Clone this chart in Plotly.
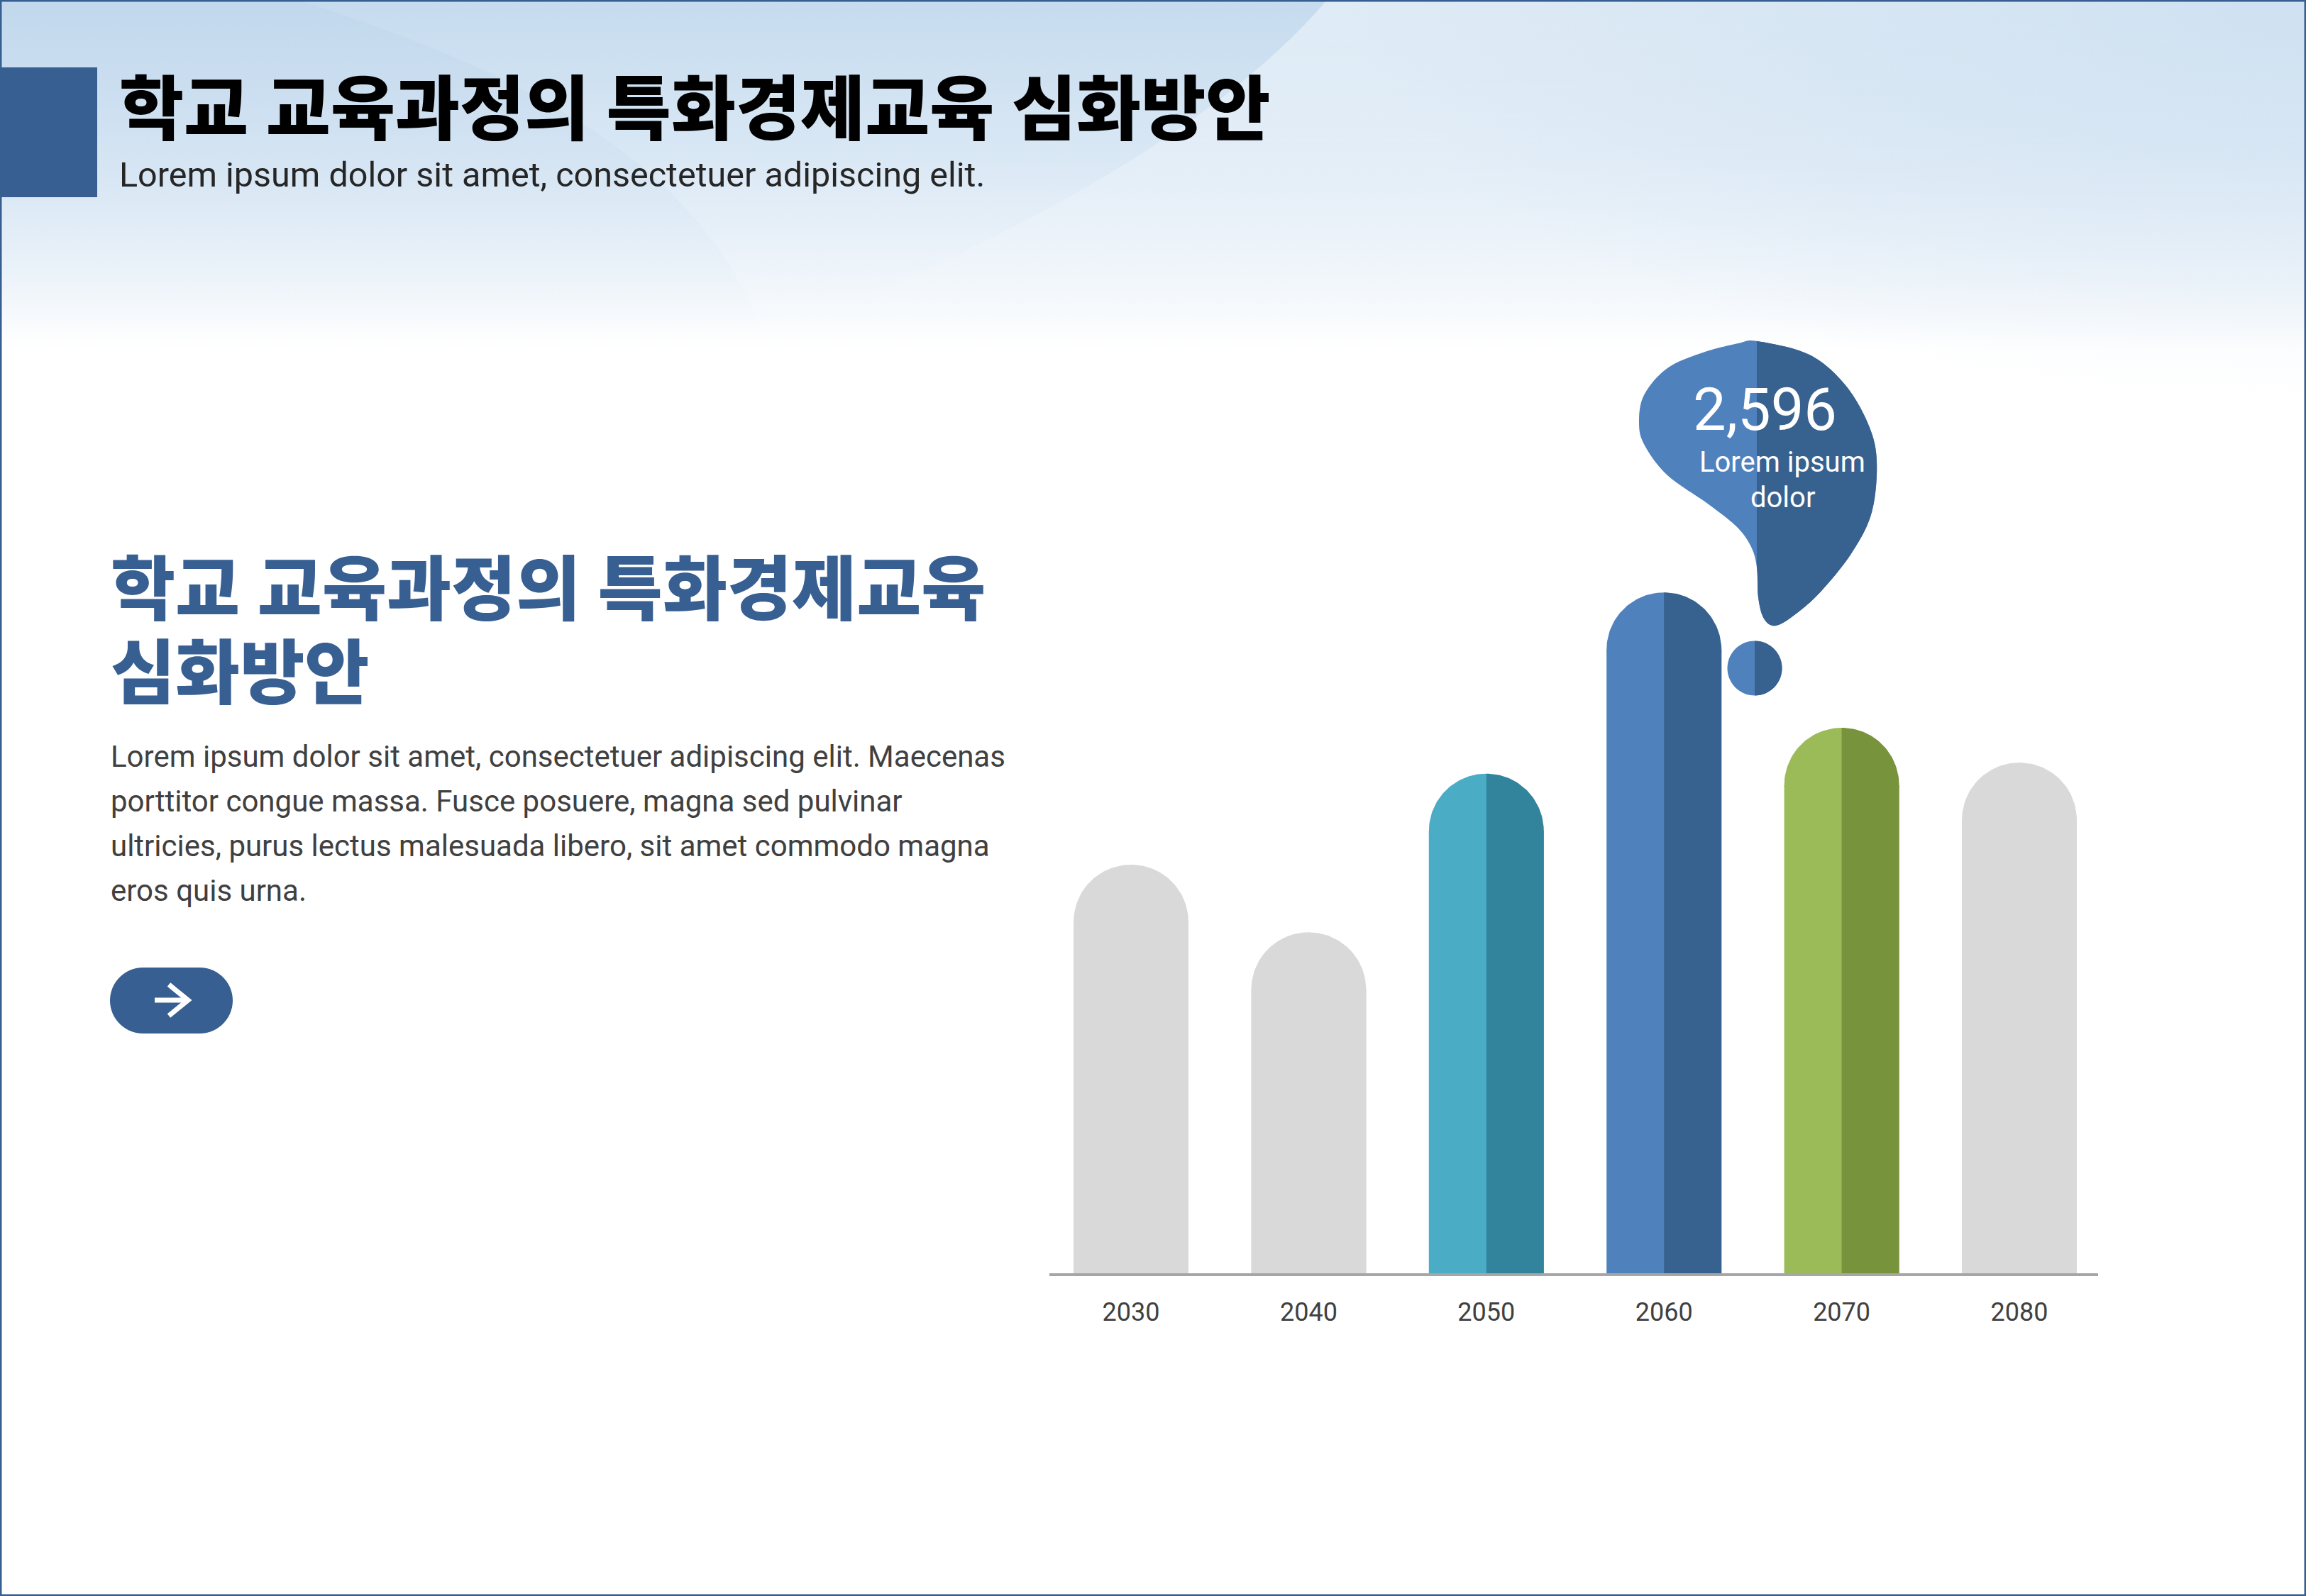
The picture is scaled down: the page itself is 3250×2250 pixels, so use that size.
import base64
import math
import plotly.graph_objects as go

# ---------------- data ----------------
years = [2030, 2040, 2050, 2060, 2070, 2080]
tick_labels = ["2030", "2040", "2050", "2060", "2070", "2080"]
values = [1558, 1300, 1905, 2596, 2080, 1947]
light_colors = ["#D9D9D9", "#D9D9D9", "#4BACC6", "#4F81BD", "#9BBB59", "#D9D9D9"]
dark_colors = ["#D9D9D9", "#D9D9D9", "#31849B", "#37618F", "#77933C", "#D9D9D9"]

callout_value = "2,596"
callout_lines = ["Lorem ipsum", "dolor"]

title = "학교 교육과정의 특화경제교육 심화방안"
subtitle = "Lorem ipsum dolor sit amet, consectetuer adipiscing elit."
side_title = ["학교 교육과정의 특화경제교육", "심화방안"]
body_lines = [
    "Lorem ipsum dolor sit amet, consectetuer adipiscing elit. Maecenas",
    "porttitor congue massa. Fusce posuere, magna sed pulvinar",
    "ultricies, purus lectus malesuada libero, sit amet commodo magna",
    "eros quis urna.",
]

# ---------------- layout constants (pixels) ----------------
W, H = 3250, 2250
PX_L, PX_R = 1479, 2957          # plot area horizontal extent
PX_BASE, PX_TOP = 1795, 316      # plot area vertical extent
Y_MAX = 4000
FIRST_PX, STEP_PX = 1594, 250.4  # first bar centre, spacing
BAR_PX = 162

NAVY = "#375F92"
KR_FONT = "Roboto, Noto Sans CJK KR"
EN_FONT = "Roboto"


def px(x, y):
    return x / W, 1 - y / H


xk = 10 / STEP_PX
x_range = [years[0] - (FIRST_PX - PX_L) * xk, years[0] + (PX_R - FIRST_PX) * xk]
yk = Y_MAX / (PX_BASE - PX_TOP)
bw = BAR_PX * xk
rx = bw / 2
ry = (BAR_PX / 2) * yk
eps = 2 * yk
dlt = 1 * xk

fig = go.Figure()

# bar bodies (full width light, right half dark)
fig.add_trace(go.Bar(x=years, y=[v - ry for v in values], width=bw,
                     marker=dict(color=light_colors, line=dict(width=0)),
                     hoverinfo="skip"))
fig.add_trace(go.Bar(x=[yr + bw / 4 for yr in years], y=[v - ry for v in values], width=bw / 2,
                     marker=dict(color=dark_colors, line=dict(width=0)),
                     hoverinfo="skip"))

# rounded caps
N = 40
for yr, v, lc in zip(years, values, light_colors):
    xs = [yr - rx] + [yr + rx * math.cos(math.pi - (math.pi / 2) * k / N) for k in range(N + 1)] + [yr + dlt, yr + dlt, yr - rx]
    ys = [v - ry - eps] + [v - ry + ry * math.sin(math.pi - (math.pi / 2) * k / N) for k in range(N + 1)] + [v, v - ry - eps, v - ry - eps]
    fig.add_trace(go.Scatter(x=xs, y=ys, mode="lines", fill="toself", fillcolor=lc,
                             line=dict(width=0, color=lc), hoverinfo="skip"))
for yr, v, dc in zip(years, values, dark_colors):
    xs = [yr, yr] + [yr + rx * math.cos((math.pi / 2) - (math.pi / 2) * k / N) for k in range(N + 1)] + [yr + rx, yr]
    ys = [v - ry - eps, v] + [v - ry + ry * math.sin((math.pi / 2) - (math.pi / 2) * k / N) for k in range(N + 1)] + [v - ry - eps, v - ry - eps]
    fig.add_trace(go.Scatter(x=xs, y=ys, mode="lines", fill="toself", fillcolor=dc,
                             line=dict(width=0, color=dc), hoverinfo="skip"))

# ---------------- decoration helpers ----------------
def catmull_closed(pts, n=14):
    out = []
    L = len(pts)
    for i in range(L):
        p0, p1, p2, p3 = pts[(i - 1) % L], pts[i], pts[(i + 1) % L], pts[(i + 2) % L]
        for k in range(n):
            t = k / n
            t2, t3 = t * t, t * t * t
            pt = []
            for d in range(2):
                pt.append(0.5 * ((2 * p1[d]) + (-p0[d] + p2[d]) * t
                                 + (2 * p0[d] - 5 * p1[d] + 4 * p2[d] - p3[d]) * t2
                                 + (-p0[d] + 3 * p1[d] - 3 * p2[d] + p3[d]) * t3))
            out.append(tuple(pt))
    return out


def clip_right(poly, xs):
    def inter(a, b):
        t = (xs - a[0]) / (b[0] - a[0])
        return (xs, a[1] + t * (b[1] - a[1]))
    out = []
    for i in range(len(poly)):
        cur, prev = poly[i], poly[i - 1]
        cin, pin = cur[0] >= xs, prev[0] >= xs
        if cin:
            if not pin:
                out.append(inter(prev, cur))
            out.append(cur)
        elif pin:
            out.append(inter(prev, cur))
    return out


def path_of(poly):
    parts = []
    for i, (x, y) in enumerate(poly):
        u, v = px(x, y)
        parts.append(("M" if i == 0 else "L") + f"{u:.6f},{v:.6f}")
    return " ".join(parts) + " Z"


def circle_poly(cx, cy, r, n=72):
    return [(cx + r * math.cos(2 * math.pi * k / n), cy + r * math.sin(2 * math.pi * k / n)) for k in range(n)]


def pill_poly(x0, y0, x1, y1, n=30):
    r = (y1 - y0) / 2
    cyc = (y0 + y1) / 2
    pts = []
    for k in range(n + 1):
        a = -math.pi / 2 + math.pi * k / n
        pts.append((x1 - r + r * math.cos(a), cyc + r * math.sin(a)))
    for k in range(n + 1):
        a = math.pi / 2 + math.pi * k / n
        pts.append((x0 + r + r * math.cos(a), cyc + r * math.sin(a)))
    return pts


shapes = []

# frame
shapes.append(dict(type="rect", xref="paper", yref="paper", x0=0, y0=0, x1=1, y1=1,
                   line=dict(color=NAVY, width=5), fillcolor="rgba(0,0,0,0)", layer="above"))
# header block
x0p, y0p = px(0, 95)
x1p, y1p = px(137, 278)
shapes.append(dict(type="rect", xref="paper", yref="paper", x0=x0p, y0=y1p, x1=x1p, y1=y0p,
                   line=dict(width=0), fillcolor=NAVY))

# callout bubble
blob_ctrl = [(2477, 481), (2550, 500), (2600, 542), (2633, 598), (2645, 650), (2638, 722),
             (2610, 779), (2568, 832), (2533, 864), (2503, 882), (2486, 872), (2478, 842),
             (2476, 800), (2468, 771), (2448, 743), (2408, 711), (2350, 670), (2318, 628),
             (2310, 597), (2317, 557), (2350, 519), (2400, 497), (2450, 484)]
blob = catmull_closed(blob_ctrl)
SPLIT = 2476
shapes.append(dict(type="path", xref="paper", yref="paper", path=path_of(blob),
                   fillcolor="#4F81BD", line=dict(width=0)))
shapes.append(dict(type="path", xref="paper", yref="paper", path=path_of(clip_right(blob, SPLIT)),
                   fillcolor="#37618F", line=dict(width=0)))
dot = circle_poly(2473, 942, 38.5)
shapes.append(dict(type="path", xref="paper", yref="paper", path=path_of(dot),
                   fillcolor="#4F81BD", line=dict(width=0)))
shapes.append(dict(type="path", xref="paper", yref="paper", path=path_of(clip_right(dot, 2473)),
                   fillcolor="#37618F", line=dict(width=0)))

# button
shapes.append(dict(type="path", xref="paper", yref="paper", path=path_of(pill_poly(155, 1364, 328, 1457)),
                   fillcolor=NAVY, line=dict(width=0)))
a0 = px(218, 1410)
a1 = px(262, 1410)
shapes.append(dict(type="line", xref="paper", yref="paper", x0=a0[0], y0=a0[1], x1=a1[0], y1=a1[1],
                   line=dict(color="white", width=7)))
c0, c1, c2 = px(238, 1388), px(265, 1410), px(238, 1432)
shapes.append(dict(type="path", xref="paper", yref="paper",
                   path=f"M{c0[0]},{c0[1]} L{c1[0]},{c1[1]} L{c2[0]},{c2[1]}",
                   line=dict(color="white", width=7), fillcolor="rgba(0,0,0,0)"))

# ---------------- background image (soft header gradient) ----------------
BG_H = 560
svg = f"""<svg xmlns='http://www.w3.org/2000/svg' width='{W}' height='{BG_H}' viewBox='0 0 {W} {BG_H}'>
<defs>
<linearGradient id='g' x1='0' y1='0' x2='0' y2='1'>
<stop offset='0' stop-color='#C5DBEE'/>
<stop offset='0.40' stop-color='#DAE8F5'/>
<stop offset='0.72' stop-color='#F1F6FB'/>
<stop offset='0.88' stop-color='#FFFFFF'/>
<stop offset='1' stop-color='#FFFFFF'/>
</linearGradient>
<linearGradient id='w' x1='0' y1='0' x2='0' y2='1'>
<stop offset='0' stop-color='#FFFFFF' stop-opacity='0.45'/>
<stop offset='1' stop-color='#FFFFFF' stop-opacity='0'/>
</linearGradient>
<linearGradient id='d' x1='0' y1='0' x2='0' y2='1'>
<stop offset='0' stop-color='#B7D1E9' stop-opacity='0.30'/>
<stop offset='1' stop-color='#B7D1E9' stop-opacity='0'/>
</linearGradient>
<radialGradient id='r' cx='1' cy='0' r='1'>
<stop offset='0' stop-color='#C2D9EE' stop-opacity='0.55'/>
<stop offset='1' stop-color='#C2D9EE' stop-opacity='0'/>
</radialGradient>
</defs>
<rect width='{W}' height='{BG_H}' fill='url(#g)'/>
<path d='M1870,0 C1700,200 1350,380 1000,500 L{W},500 L{W},0 Z' fill='url(#w)'/>
<path d='M0,0 L420,0 C800,120 1000,260 1080,480 L0,480 Z' fill='url(#d)'/>
<rect x='1900' y='0' width='1350' height='{BG_H}' fill='url(#r)'/>
</svg>"""
bg_src = "data:image/svg+xml;base64," + base64.b64encode(svg.encode("utf-8")).decode("ascii")

# ---------------- annotations ----------------
ann = []


def add_text(text, x, y, size, color, family, weight=400, xanchor="left"):
    u, v = px(x, y)
    ann.append(dict(text=text, x=u, y=v, xref="paper", yref="paper", xanchor=xanchor, yanchor="middle",
                    align="left" if xanchor == "left" else "center",
                    showarrow=False, font=dict(family=family, size=size, color=color, weight=weight)))


add_text(title, 166, 155, 99, "#000000", KR_FONT, 900)
add_text(subtitle, 166, 247, 48.5, "#262626", EN_FONT)
add_text(side_title[0], 154, 832, 99, NAVY, KR_FONT, 900)
add_text(side_title[1], 154, 950, 99, NAVY, KR_FONT, 900)
for i, line in enumerate(body_lines):
    add_text(line, 154, 1066 + i * 63, 42, "#404040", EN_FONT)

add_text(callout_value, 2487, 577, 83, "#FFFFFF", EN_FONT, xanchor="center")
add_text(callout_lines[0], 2512, 651, 40, "#FFFFFF", EN_FONT, xanchor="center")
add_text(callout_lines[1], 2512, 701, 40, "#FFFFFF", EN_FONT, xanchor="center")

fig.update_layout(
    width=W, height=H,
    margin=dict(l=0, r=0, t=0, b=0, pad=0),
    paper_bgcolor="white", plot_bgcolor="rgba(0,0,0,0)",
    showlegend=False, barmode="overlay", hovermode=False,
    xaxis=dict(domain=[PX_L / W, PX_R / W], range=x_range, tickvals=years, ticktext=tick_labels,
               showline=True, linecolor="#A6A6A6", linewidth=4, ticks="outside", ticklen=20,
               tickcolor="rgba(0,0,0,0)", tickfont=dict(family=EN_FONT, size=36, color="#404040"),
               showgrid=False, zeroline=False, fixedrange=True),
    yaxis=dict(domain=[1 - PX_BASE / H, 1 - PX_TOP / H], range=[0, Y_MAX], visible=False,
               showgrid=False, zeroline=False, fixedrange=True),
    shapes=shapes,
    annotations=ann,
    images=[dict(source=bg_src, xref="paper", yref="paper", x=0, y=1, sizex=1, sizey=BG_H / H,
                 sizing="stretch", xanchor="left", yanchor="top", layer="below")],
)

fig.write_html("out.html")
